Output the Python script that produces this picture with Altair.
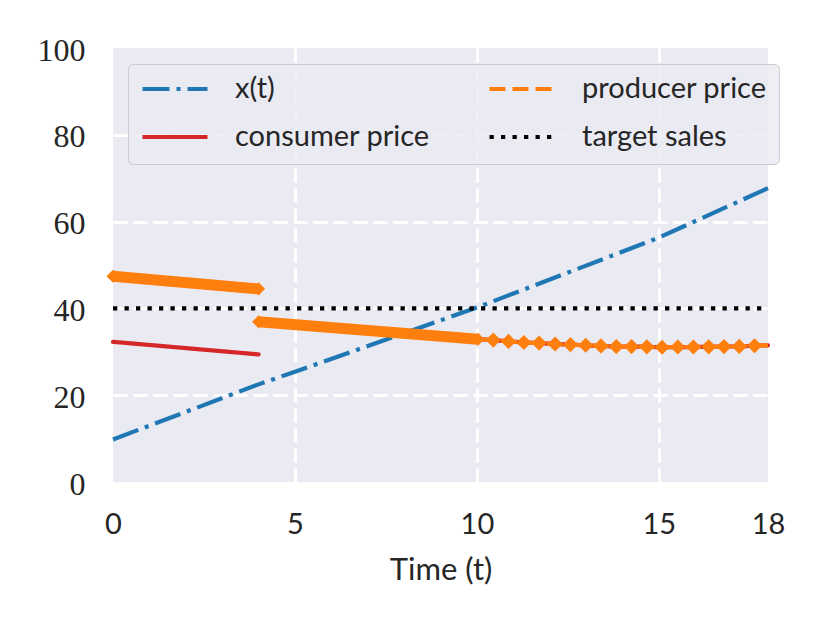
import altair as alt
import pandas as pd

# ---- data ----
SERIES = ["x(t)", "consumer price", "producer price", "target sales"]
COLORS = ["#1f77b4", "#d62728", "#ff7f0e", "#000000"]
DASHES = [[27, 7, 4, 7], [1, 0], [16, 7], [4.3, 7.2]]

xt_t = [0, 4, 5, 10, 15, 18]
xt_v = [9.8, 22.5, 25.4, 40.2, 56.3, 67.7]

cons1_t = [0, 4]
cons1_v = [32.3, 29.4]

prodA_t = [0, 4]
prodA_v = [47.4, 44.5]
prodB_t = [4, 10.03]
prodB_v = [36.9, 32.9]

sparse_t = [10.45, 10.87, 11.29, 11.71, 12.15, 12.57, 12.99, 13.41, 13.83,
            14.25, 14.67, 15.09, 15.52, 15.95, 16.37, 16.79, 17.21, 17.63]
sparse_v = [32.7, 32.4, 32.15, 32.0, 31.8, 31.65, 31.5, 31.35, 31.2,
            31.2, 31.15, 31.05, 31.1, 31.1, 31.15, 31.2, 31.25, 31.4]
end_t = [18]
end_v = [31.5]

target_t = [0, 18]
target_v = [40, 40]

x_ticks = [0, 5, 10, 15, 18]
y_ticks = [0, 20, 40, 60, 80, 100]

# ---- tables ----
def frame(series, seg, ts, vs):
    return pd.DataFrame({"series": series, "seg": seg, "t": ts, "v": vs})

df_xt = frame("x(t)", "x", xt_t, xt_v)
df_cons = pd.concat([
    frame("consumer price", "c1", cons1_t, cons1_v),
    frame("consumer price", "c2", prodB_t + sparse_t + end_t, prodB_v + sparse_v + end_v),
])
df_prod_thin = frame("producer price", "p", prodB_t[-1:] + sparse_t + end_t,
                     prodB_v[-1:] + sparse_v + end_v)
df_target = frame("target sales", "s", target_t, target_v)
df_band = pd.concat([
    frame("producer price", "A", prodA_t, prodA_v),
    frame("producer price", "B", prodB_t, prodB_v),
])
df_sparse = frame("producer price", "p", sparse_t, sparse_v)

SANS = "Lato"
SERIF = "Liberation Serif"
TXT = "#262626"

x_grid_op = {"condition": {"test": "datum.value == 0 || datum.value == 18", "value": 0},
             "value": 1}
y_grid_op = {"condition": {"test": "datum.value == 0 || datum.value == 100", "value": 0},
             "value": 1}

x_enc = alt.X("t:Q", scale=alt.Scale(domain=[0, 18], nice=False, zero=False),
              axis=alt.Axis(values=x_ticks, title="Time (t)", format="d",
                            labelFont=SANS, labelFontSize=29, labelColor=TXT,
                            titleFont=SANS, titleFontSize=31, titleColor=TXT,
                            titleFontWeight="normal", titlePadding=16,
                            ticks=False, domain=False, labelPadding=28,
                            labelFlush=False, gridColor="white", gridWidth=3,
                            gridDash=[14, 6], gridOpacity=x_grid_op))
y_enc = alt.Y("v:Q", scale=alt.Scale(domain=[0, 100], nice=False),
              axis=alt.Axis(values=y_ticks, title=None, format="d",
                            labelFont=SERIF, labelFontSize=32, labelColor=TXT,
                            ticks=False, domain=False, labelPadding=28,
                            labelFlush=False, labelBaseline="middle", labelOffset=2,
                            gridColor="white", gridWidth=3, gridDash=[14, 6],
                            gridOpacity=y_grid_op))

legend = alt.Legend(title=None, orient="none", legendX=15, legendY=16,
                    columns=2, symbolType="stroke", symbolSize=4225,
                    symbolStrokeWidth=4.2, clipHeight=26,
                    labelFont=SANS, labelFontSize=29, labelColor=TXT,
                    labelLimit=400,
                    labelOffset=25, columnPadding=57, rowPadding=19,
                    padding=12, fillColor="rgba(234,234,242,0.8)",
                    strokeColor="#cccccc", cornerRadius=5)

color_enc = alt.Color("series:N", scale=alt.Scale(domain=SERIES, range=COLORS),
                      legend=legend)
dash_enc = alt.StrokeDash("series:N", scale=alt.Scale(domain=SERIES, range=DASHES),
                          legend=legend)


def line_layer(df, cap="butt"):
    return alt.Chart(df).mark_line(strokeWidth=4.2, strokeCap=cap).encode(
        x=x_enc, y=y_enc, color=color_enc, strokeDash=dash_enc, detail="seg:N")


xt_layer = line_layer(df_xt)
cons_layer = line_layer(df_cons, cap="round")
band_layer = alt.Chart(df_band).mark_line(strokeWidth=11, strokeCap="butt",
                                          color="#ff7f0e").encode(
    x=x_enc, y=y_enc, detail="seg:N")
band_ends = alt.Chart(df_band).mark_point(shape="diamond", filled=True, size=170,
                                          opacity=1, color="#ff7f0e").encode(
    x=x_enc, y=y_enc)
prod_layer = line_layer(df_prod_thin)
diamonds = alt.Chart(df_sparse).mark_point(shape="diamond", filled=True, size=230,
                                           opacity=1, color="#ff7f0e").encode(
    x=x_enc, y=y_enc)
target_layer = line_layer(df_target)

chart = alt.layer(
    xt_layer, cons_layer, band_layer, band_ends, prod_layer, diamonds, target_layer
).properties(
    width=655, height=434,
    autosize=alt.AutoSizeParams(type="none"),
    padding={"left": 105, "top": 40, "right": 45, "bottom": 125},
).configure(
    background="white",
    view=alt.ViewConfig(fill="#EAEAF2", strokeWidth=0),
)

chart.save("out.html", embed_options={"renderer": "svg", "actions": False})
